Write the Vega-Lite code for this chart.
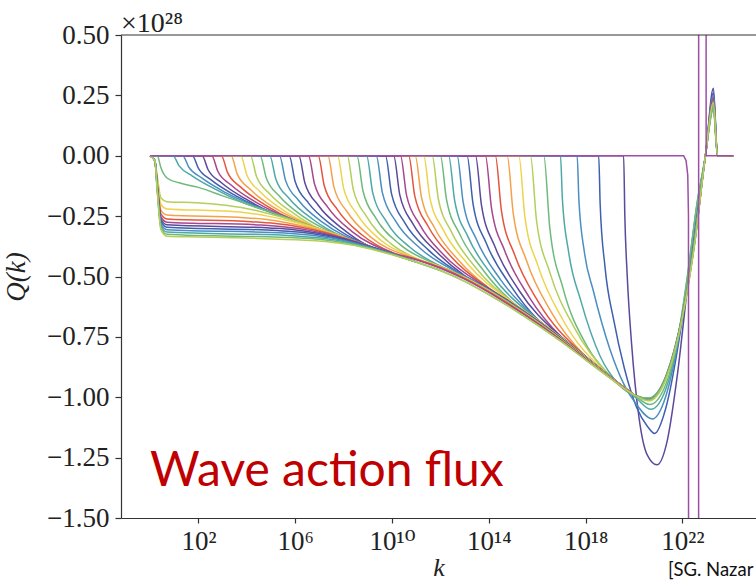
{
"$schema":"https://vega.github.io/schema/vega-lite/v6.json",
"width":635,"height":483,
"autosize":{"type":"none"},
"padding":{"left":121,"top":35,"right":0,"bottom":64},
"background":"white",
"config":{"view":{"stroke":null}},
"datasets":{
"curves":[
{"c":1,"x":0,"q":0},{"c":1,"x":19.57,"q":0},{"c":1,"x":19.62,"q":-0.25},{"c":1,"x":19.72,"q":-0.5},{"c":1,"x":19.9,"q":-0.78},{"c":1,"x":20.2,"q":-1.08},{"c":1,"x":20.55,"q":-1.24},{"c":1,"x":20.95,"q":-1.28},{"c":1,"x":21.35,"q":-1.19},{"c":1,"x":21.8,"q":-0.9},{"c":1,"x":22.2,"q":-0.55},{"c":1,"x":22.6,"q":-0.22},{"c":1,"x":22.95,"q":0},{"c":1,"x":23.28,"q":0.28},{"c":1,"x":23.45,"q":0},{"c":1,"x":24.1,"q":0},
{"c":2,"x":0,"q":0},{"c":2,"x":18.54,"q":0},{"c":2,"x":18.6,"q":-0.2},{"c":2,"x":18.8,"q":-0.46},{"c":2,"x":19.16,"q":-0.68},{"c":2,"x":19.6,"q":-0.88},{"c":2,"x":20.1,"q":-1.04},{"c":2,"x":20.55,"q":-1.12},{"c":2,"x":20.85,"q":-1.15},{"c":2,"x":21.3,"q":-1.05},{"c":2,"x":21.8,"q":-0.8},{"c":2,"x":22.2,"q":-0.53},{"c":2,"x":22.6,"q":-0.22},{"c":2,"x":22.95,"q":0},{"c":2,"x":23.28,"q":0.26},{"c":2,"x":23.45,"q":0},{"c":2,"x":24.1,"q":0},
{"c":3,"x":0,"q":0},{"c":3,"x":17.65,"q":0},{"c":3,"x":17.72,"q":-0.18},{"c":3,"x":17.95,"q":-0.4},{"c":3,"x":18.32,"q":-0.56},{"c":3,"x":19,"q":-0.8},{"c":3,"x":19.6,"q":-0.95},{"c":3,"x":20.1,"q":-1.03},{"c":3,"x":20.75,"q":-1.09},{"c":3,"x":21.3,"q":-1.0},{"c":3,"x":21.8,"q":-0.78},{"c":3,"x":22.2,"q":-0.52},{"c":3,"x":22.6,"q":-0.21},{"c":3,"x":22.95,"q":0},{"c":3,"x":23.28,"q":0.25},{"c":3,"x":23.45,"q":0},{"c":3,"x":24.1,"q":0},
{"c":4,"x":0,"q":0},{"c":4,"x":16.96,"q":0},{"c":4,"x":17.04,"q":-0.18},{"c":4,"x":17.3,"q":-0.4},{"c":4,"x":17.8,"q":-0.6},{"c":4,"x":18.6,"q":-0.83},{"c":4,"x":19.4,"q":-0.95},{"c":4,"x":20.05,"q":-1.0},{"c":4,"x":20.7,"q":-1.05},{"c":4,"x":21.3,"q":-0.97},{"c":4,"x":21.8,"q":-0.77},{"c":4,"x":22.2,"q":-0.51},{"c":4,"x":22.6,"q":-0.2},{"c":4,"x":22.95,"q":0},{"c":4,"x":23.28,"q":0.24},{"c":4,"x":23.45,"q":0},{"c":4,"x":24.1,"q":0},
{"c":5,"x":0,"q":0},{"c":5,"x":16.27,"q":0},{"c":5,"x":16.52,"q":-0.3},{"c":5,"x":17.07,"q":-0.55},{"c":5,"x":18.07,"q":-0.79},{"c":5,"x":19,"q":-0.91},{"c":5,"x":20,"q":-0.99},{"c":5,"x":20.65,"q":-1.03},{"c":5,"x":21.3,"q":-0.95},{"c":5,"x":21.8,"q":-0.76},{"c":5,"x":22.2,"q":-0.5},{"c":5,"x":22.6,"q":-0.2},{"c":5,"x":22.95,"q":0},{"c":5,"x":23.28,"q":0.23},{"c":5,"x":23.45,"q":0},{"c":5,"x":24.1,"q":0},
{"c":6,"x":0,"q":0},{"c":6,"x":15.72,"q":0},{"c":6,"x":15.97,"q":-0.267},{"c":6,"x":16.52,"q":-0.483},{"c":6,"x":17.52,"q":-0.71},{"c":6,"x":19,"q":-0.912},{"c":6,"x":20,"q":-0.99},
{"c":7,"x":0,"q":0},{"c":7,"x":15.24,"q":0},{"c":7,"x":15.49,"q":-0.253},{"c":7,"x":16.04,"q":-0.458},{"c":7,"x":17.04,"q":-0.676},{"c":7,"x":19,"q":-0.912},{"c":7,"x":20,"q":-0.99},
{"c":8,"x":0,"q":0},{"c":8,"x":14.76,"q":0},{"c":8,"x":15.01,"q":-0.24},{"c":8,"x":15.56,"q":-0.435},{"c":8,"x":16.56,"q":-0.644},{"c":8,"x":18,"q":-0.831},{"c":8,"x":19,"q":-0.913},{"c":8,"x":20,"q":-0.99},
{"c":9,"x":0,"q":0},{"c":9,"x":14.27,"q":0},{"c":9,"x":14.52,"q":-0.227},{"c":9,"x":15.07,"q":-0.411},{"c":9,"x":16.07,"q":-0.609},{"c":9,"x":18,"q":-0.831},{"c":9,"x":19,"q":-0.913},{"c":9,"x":20,"q":-0.99},
{"c":10,"x":0,"q":0},{"c":10,"x":13.86,"q":0},{"c":10,"x":14.11,"q":-0.217},{"c":10,"x":14.66,"q":-0.394},{"c":10,"x":15.66,"q":-0.584},{"c":10,"x":17,"q":-0.751},{"c":10,"x":18,"q":-0.832},{"c":10,"x":19,"q":-0.913},{"c":10,"x":20,"q":-0.99},{"c":10,"x":20.6,"q":-1.012},{"c":10,"x":21.3,"q":-0.925},{"c":10,"x":22,"q":-0.665},{"c":10,"x":22.5,"q":-0.365},{"c":10,"x":22.95,"q":0},{"c":10,"x":23.28,"q":0.22},{"c":10,"x":23.45,"q":0},{"c":10,"x":24.1,"q":0},
{"c":11,"x":0,"q":0},{"c":11,"x":13.45,"q":0},{"c":11,"x":13.7,"q":-0.208},{"c":11,"x":14.25,"q":-0.376},{"c":11,"x":15.25,"q":-0.558},{"c":11,"x":17,"q":-0.751},{"c":11,"x":18,"q":-0.832},{"c":11,"x":19,"q":-0.913},{"c":11,"x":20,"q":-0.99},
{"c":12,"x":0,"q":0},{"c":12,"x":13.1,"q":0},{"c":12,"x":13.35,"q":-0.201},{"c":12,"x":13.9,"q":-0.363},{"c":12,"x":14.9,"q":-0.538},{"c":12,"x":16,"q":-0.676},{"c":12,"x":17,"q":-0.752},{"c":12,"x":18,"q":-0.833},{"c":12,"x":19,"q":-0.914},{"c":12,"x":20,"q":-0.99},
{"c":13,"x":0,"q":0},{"c":13,"x":12.69,"q":0},{"c":13,"x":12.94,"q":-0.193},{"c":13,"x":13.49,"q":-0.347},{"c":13,"x":14.49,"q":-0.514},{"c":13,"x":16,"q":-0.676},{"c":13,"x":17,"q":-0.752},{"c":13,"x":18,"q":-0.833},{"c":13,"x":19,"q":-0.914},{"c":13,"x":20,"q":-0.99},
{"c":14,"x":0,"q":0},{"c":14,"x":12.34,"q":0},{"c":14,"x":12.59,"q":-0.187},{"c":14,"x":13.14,"q":-0.336},{"c":14,"x":14.14,"q":-0.496},{"c":14,"x":16,"q":-0.678},{"c":14,"x":17,"q":-0.754},{"c":14,"x":18,"q":-0.834},{"c":14,"x":19,"q":-0.914},{"c":14,"x":20,"q":-0.99},
{"c":15,"x":0,"q":0},{"c":15,"x":12,"q":0},{"c":15,"x":12.25,"q":-0.181},{"c":15,"x":12.8,"q":-0.325},{"c":15,"x":13.8,"q":-0.478},{"c":15,"x":15,"q":-0.608},{"c":15,"x":16,"q":-0.678},{"c":15,"x":17,"q":-0.754},{"c":15,"x":18,"q":-0.834},{"c":15,"x":19,"q":-0.914},{"c":15,"x":20,"q":-0.99},{"c":15,"x":20.6,"q":-1.008},{"c":15,"x":21.3,"q":-0.92},{"c":15,"x":22,"q":-0.66},{"c":15,"x":22.5,"q":-0.36},{"c":15,"x":22.95,"q":0},{"c":15,"x":23.28,"q":0.21},{"c":15,"x":23.45,"q":0},{"c":15,"x":24.1,"q":0},
{"c":16,"x":0,"q":0},{"c":16,"x":11.66,"q":0},{"c":16,"x":11.91,"q":-0.177},{"c":16,"x":12.46,"q":-0.316},{"c":16,"x":13.46,"q":-0.464},{"c":16,"x":15,"q":-0.61},{"c":16,"x":16,"q":-0.68},{"c":16,"x":17,"q":-0.755},{"c":16,"x":18,"q":-0.835},{"c":16,"x":19,"q":-0.915},{"c":16,"x":20,"q":-0.99},
{"c":17,"x":0,"q":0},{"c":17,"x":11.31,"q":0},{"c":17,"x":11.56,"q":-0.172},{"c":17,"x":12.11,"q":-0.306},{"c":17,"x":13.11,"q":-0.446},{"c":17,"x":15,"q":-0.61},{"c":17,"x":16,"q":-0.68},{"c":17,"x":17,"q":-0.755},{"c":17,"x":18,"q":-0.835},{"c":17,"x":19,"q":-0.915},{"c":17,"x":20,"q":-0.99},
{"c":18,"x":0,"q":0},{"c":18,"x":10.96,"q":0},{"c":18,"x":11.21,"q":-0.168},{"c":18,"x":11.76,"q":-0.299},{"c":18,"x":12.76,"q":-0.434},{"c":18,"x":14,"q":-0.548},{"c":18,"x":15,"q":-0.613},{"c":18,"x":16,"q":-0.682},{"c":18,"x":17,"q":-0.757},{"c":18,"x":18,"q":-0.836},{"c":18,"x":19,"q":-0.915},{"c":18,"x":20,"q":-0.99},
{"c":19,"x":0,"q":0},{"c":19,"x":10.69,"q":0},{"c":19,"x":10.94,"q":-0.167},{"c":19,"x":11.49,"q":-0.292},{"c":19,"x":12.49,"q":-0.423},{"c":19,"x":14,"q":-0.548},{"c":19,"x":15,"q":-0.613},{"c":19,"x":16,"q":-0.682},{"c":19,"x":17,"q":-0.757},{"c":19,"x":18,"q":-0.836},{"c":19,"x":19,"q":-0.915},{"c":19,"x":20,"q":-0.99},
{"c":20,"x":0,"q":0},{"c":20,"x":10.35,"q":0},{"c":20,"x":10.6,"q":-0.164},{"c":20,"x":11.15,"q":-0.286},{"c":20,"x":12.15,"q":-0.412},{"c":20,"x":14,"q":-0.551},{"c":20,"x":15,"q":-0.615},{"c":20,"x":16,"q":-0.684},{"c":20,"x":17,"q":-0.758},{"c":20,"x":18,"q":-0.837},{"c":20,"x":19,"q":-0.916},{"c":20,"x":20,"q":-0.99},{"c":20,"x":20.6,"q":-1.005},{"c":20,"x":21.3,"q":-0.918},{"c":20,"x":22,"q":-0.658},{"c":20,"x":22.5,"q":-0.358},{"c":20,"x":22.95,"q":0},{"c":20,"x":23.28,"q":0.2},{"c":20,"x":23.45,"q":0},{"c":20,"x":24.1,"q":0},
{"c":21,"x":0,"q":0},{"c":21,"x":10.07,"q":0},{"c":21,"x":10.32,"q":-0.162},{"c":21,"x":10.87,"q":-0.283},{"c":21,"x":11.87,"q":-0.401},{"c":21,"x":13,"q":-0.496},{"c":21,"x":14,"q":-0.551},{"c":21,"x":15,"q":-0.615},{"c":21,"x":16,"q":-0.684},{"c":21,"x":17,"q":-0.758},{"c":21,"x":18,"q":-0.837},{"c":21,"x":19,"q":-0.916},{"c":21,"x":20,"q":-0.99},
{"c":22,"x":0,"q":0},{"c":22,"x":9.73,"q":0},{"c":22,"x":9.98,"q":-0.158},{"c":22,"x":10.53,"q":-0.278},{"c":22,"x":11.53,"q":-0.393},{"c":22,"x":13,"q":-0.499},{"c":22,"x":14,"q":-0.554},{"c":22,"x":15,"q":-0.618},{"c":22,"x":16,"q":-0.686},{"c":22,"x":17,"q":-0.76},{"c":22,"x":18,"q":-0.838},{"c":22,"x":19,"q":-0.916},{"c":22,"x":20,"q":-0.99},
{"c":23,"x":0,"q":0},{"c":23,"x":9.35,"q":0},{"c":23,"x":9.6,"q":-0.153},{"c":23,"x":10.15,"q":-0.271},{"c":23,"x":11.15,"q":-0.382},{"c":23,"x":13,"q":-0.499},{"c":23,"x":14,"q":-0.554},{"c":23,"x":15,"q":-0.618},{"c":23,"x":16,"q":-0.686},{"c":23,"x":17,"q":-0.76},{"c":23,"x":18,"q":-0.838},{"c":23,"x":19,"q":-0.916},{"c":23,"x":20,"q":-0.99},
{"c":24,"x":0,"q":0},{"c":24,"x":8.95,"q":0},{"c":24,"x":9.2,"q":-0.152},{"c":24,"x":9.75,"q":-0.27},{"c":24,"x":10.75,"q":-0.38},{"c":24,"x":12,"q":-0.457},{"c":24,"x":13,"q":-0.502},{"c":24,"x":14,"q":-0.557},{"c":24,"x":15,"q":-0.62},{"c":24,"x":16,"q":-0.688},{"c":24,"x":17,"q":-0.761},{"c":24,"x":18,"q":-0.839},{"c":24,"x":19,"q":-0.917},{"c":24,"x":20,"q":-0.99},
{"c":25,"x":0,"q":0},{"c":25,"x":8.55,"q":0},{"c":25,"x":8.8,"q":-0.146},{"c":25,"x":9.35,"q":-0.261},{"c":25,"x":10.35,"q":-0.369},{"c":25,"x":12,"q":-0.457},{"c":25,"x":13,"q":-0.502},{"c":25,"x":14,"q":-0.557},{"c":25,"x":15,"q":-0.62},{"c":25,"x":16,"q":-0.688},{"c":25,"x":17,"q":-0.761},{"c":25,"x":18,"q":-0.839},{"c":25,"x":19,"q":-0.917},{"c":25,"x":20,"q":-0.99},{"c":25,"x":20.6,"q":-1.003},{"c":25,"x":21.3,"q":-0.915},{"c":25,"x":22,"q":-0.655},{"c":25,"x":22.5,"q":-0.355},{"c":25,"x":22.95,"q":0},{"c":25,"x":23.28,"q":0.19},{"c":25,"x":23.45,"q":0},{"c":25,"x":24.1,"q":0},
{"c":26,"x":0,"q":0},{"c":26,"x":8.15,"q":0},{"c":26,"x":8.4,"q":-0.14},{"c":26,"x":8.95,"q":-0.252},{"c":26,"x":9.95,"q":-0.364},{"c":26,"x":11,"q":-0.425},{"c":26,"x":12,"q":-0.46},{"c":26,"x":13,"q":-0.505},{"c":26,"x":14,"q":-0.56},{"c":26,"x":15,"q":-0.623},{"c":26,"x":16,"q":-0.69},{"c":26,"x":17,"q":-0.763},{"c":26,"x":18,"q":-0.84},{"c":26,"x":19,"q":-0.917},{"c":26,"x":20,"q":-0.99},
{"c":27,"x":0,"q":0},{"c":27,"x":7.75,"q":0},{"c":27,"x":8,"q":-0.135},{"c":27,"x":8.55,"q":-0.242},{"c":27,"x":9.55,"q":-0.351},{"c":27,"x":11,"q":-0.425},{"c":27,"x":12,"q":-0.46},{"c":27,"x":13,"q":-0.505},{"c":27,"x":14,"q":-0.56},{"c":27,"x":15,"q":-0.623},{"c":27,"x":16,"q":-0.69},{"c":27,"x":17,"q":-0.763},{"c":27,"x":18,"q":-0.84},{"c":27,"x":19,"q":-0.917},{"c":27,"x":20,"q":-0.99},
{"c":28,"x":0,"q":0},{"c":28,"x":7.35,"q":0},{"c":28,"x":7.6,"q":-0.13},{"c":28,"x":8.15,"q":-0.233},{"c":28,"x":9.15,"q":-0.339},{"c":28,"x":11,"q":-0.428},{"c":28,"x":12,"q":-0.463},{"c":28,"x":13,"q":-0.508},{"c":28,"x":14,"q":-0.563},{"c":28,"x":15,"q":-0.625},{"c":28,"x":16,"q":-0.692},{"c":28,"x":17,"q":-0.764},{"c":28,"x":18,"q":-0.841},{"c":28,"x":19,"q":-0.918},{"c":28,"x":20,"q":-0.99},
{"c":29,"x":0,"q":0},{"c":29,"x":6.95,"q":0},{"c":29,"x":7.2,"q":-0.124},{"c":29,"x":7.75,"q":-0.224},{"c":29,"x":8.75,"q":-0.327},{"c":29,"x":10,"q":-0.4},{"c":29,"x":11,"q":-0.428},{"c":29,"x":12,"q":-0.463},{"c":29,"x":13,"q":-0.508},{"c":29,"x":14,"q":-0.563},{"c":29,"x":15,"q":-0.625},{"c":29,"x":16,"q":-0.692},{"c":29,"x":17,"q":-0.764},{"c":29,"x":18,"q":-0.841},{"c":29,"x":19,"q":-0.918},{"c":29,"x":20,"q":-0.99},
{"c":30,"x":0,"q":0},{"c":30,"x":6.55,"q":0},{"c":30,"x":6.8,"q":-0.118},{"c":30,"x":7.35,"q":-0.214},{"c":30,"x":8.35,"q":-0.314},{"c":30,"x":10,"q":-0.401},{"c":30,"x":11,"q":-0.431},{"c":30,"x":12,"q":-0.466},{"c":30,"x":13,"q":-0.511},{"c":30,"x":14,"q":-0.566},{"c":30,"x":15,"q":-0.628},{"c":30,"x":16,"q":-0.694},{"c":30,"x":17,"q":-0.766},{"c":30,"x":18,"q":-0.842},{"c":30,"x":19,"q":-0.918},{"c":30,"x":20,"q":-0.99},{"c":30,"x":20.6,"q":-1.01},{"c":30,"x":21.3,"q":-0.92},{"c":30,"x":22,"q":-0.66},{"c":30,"x":22.5,"q":-0.36},{"c":30,"x":22.95,"q":0},{"c":30,"x":23.28,"q":0.24},{"c":30,"x":23.45,"q":0},{"c":30,"x":24.1,"q":0},
{"c":31,"x":0,"q":0},{"c":31,"x":6.15,"q":0},{"c":31,"x":6.4,"q":-0.113},{"c":31,"x":6.95,"q":-0.205},{"c":31,"x":7.95,"q":-0.302},{"c":31,"x":9,"q":-0.372},{"c":31,"x":10,"q":-0.406},
{"c":32,"x":0,"q":0},{"c":32,"x":5.75,"q":0},{"c":32,"x":6,"q":-0.108},{"c":32,"x":6.55,"q":-0.196},{"c":32,"x":7.55,"q":-0.29},{"c":32,"x":9,"q":-0.372},{"c":32,"x":10,"q":-0.406},
{"c":33,"x":0,"q":0},{"c":33,"x":5.35,"q":0},{"c":33,"x":5.6,"q":-0.102},{"c":33,"x":6.15,"q":-0.186},{"c":33,"x":7.15,"q":-0.277},{"c":33,"x":9,"q":-0.372},{"c":33,"x":10,"q":-0.406},
{"c":34,"x":0,"q":0},{"c":34,"x":4.95,"q":0},{"c":34,"x":5.2,"q":-0.097},{"c":34,"x":5.75,"q":-0.177},{"c":34,"x":6.75,"q":-0.265},{"c":34,"x":8,"q":-0.337},{"c":34,"x":9,"q":-0.372},
{"c":35,"x":0,"q":0},{"c":35,"x":4.55,"q":0},{"c":35,"x":4.8,"q":-0.091},{"c":35,"x":5.35,"q":-0.168},{"c":35,"x":6.35,"q":-0.253},{"c":35,"x":8,"q":-0.337},{"c":35,"x":9,"q":-0.372},
{"c":36,"x":0,"q":0},{"c":36,"x":4.15,"q":0},{"c":36,"x":4.4,"q":-0.086},{"c":36,"x":4.95,"q":-0.158},{"c":36,"x":5.95,"q":-0.24},{"c":36,"x":7,"q":-0.303},{"c":36,"x":8,"q":-0.337},
{"c":37,"x":0,"q":0},{"c":37,"x":3.75,"q":0},{"c":37,"x":4,"q":-0.08},{"c":37,"x":4.55,"q":-0.149},{"c":37,"x":5.55,"q":-0.228},{"c":37,"x":7,"q":-0.303},{"c":37,"x":8,"q":-0.337},
{"c":38,"x":0,"q":0},{"c":38,"x":3.35,"q":0},{"c":38,"x":3.6,"q":-0.075},{"c":38,"x":4.15,"q":-0.14},{"c":38,"x":5.15,"q":-0.216},{"c":38,"x":7,"q":-0.303},{"c":38,"x":8,"q":-0.337},
{"c":39,"x":0,"q":0},{"c":39,"x":2.95,"q":0},{"c":39,"x":3.2,"q":-0.069},{"c":39,"x":3.75,"q":-0.13},{"c":39,"x":4.75,"q":-0.203},{"c":39,"x":6,"q":-0.269},{"c":39,"x":7,"q":-0.303},
{"c":40,"x":0,"q":0},{"c":40,"x":2.55,"q":0},{"c":40,"x":2.8,"q":-0.064},{"c":40,"x":3.35,"q":-0.121},{"c":40,"x":4.35,"q":-0.191},{"c":40,"x":6,"q":-0.269},{"c":40,"x":7,"q":-0.303},
{"c":41,"x":0,"q":0},{"c":41,"x":2.15,"q":0},{"c":41,"x":2.4,"q":-0.058},{"c":41,"x":2.95,"q":-0.112},{"c":41,"x":3.95,"q":-0.179},{"c":41,"x":5,"q":-0.234},{"c":41,"x":6,"q":-0.269},
{"c":42,"x":0,"q":0},{"c":42,"x":1.75,"q":0},{"c":42,"x":2,"q":-0.052},{"c":42,"x":2.55,"q":-0.102},{"c":42,"x":3.55,"q":-0.166},{"c":42,"x":5,"q":-0.234},{"c":42,"x":6,"q":-0.269},
{"c":43,"x":0,"q":0},{"c":43,"x":1.35,"q":0},{"c":43,"x":1.6,"q":-0.047},{"c":43,"x":2.15,"q":-0.093},{"c":43,"x":3.15,"q":-0.154},{"c":43,"x":5,"q":-0.234},{"c":43,"x":6,"q":-0.269},
{"c":44,"x":0,"q":0},{"c":44,"x":0.95,"q":0},{"c":44,"x":1.2,"q":-0.042},{"c":44,"x":1.75,"q":-0.084},{"c":44,"x":2.75,"q":-0.141},{"c":44,"x":4,"q":-0.2},{"c":44,"x":5,"q":-0.234},
{"c":45,"x":0,"q":0},{"c":45,"x":0.3,"q":0},{"c":45,"x":0.45,"q":-0.05},{"c":45,"x":0.7,"q":-0.092},{"c":45,"x":1.2,"q":-0.112},{"c":45,"x":2,"q":-0.131},{"c":45,"x":3,"q":-0.166},{"c":45,"x":4,"q":-0.2},{"c":45,"x":5,"q":-0.234},{"c":45,"x":6,"q":-0.269},{"c":45,"x":7,"q":-0.303},{"c":45,"x":8,"q":-0.337},{"c":45,"x":9,"q":-0.372},{"c":45,"x":10,"q":-0.406},{"c":45,"x":11,"q":-0.44},{"c":45,"x":12,"q":-0.475},{"c":45,"x":13,"q":-0.52},{"c":45,"x":14,"q":-0.575},{"c":45,"x":15,"q":-0.635},{"c":45,"x":16,"q":-0.7},{"c":45,"x":17,"q":-0.77},{"c":45,"x":18,"q":-0.845},{"c":45,"x":19,"q":-0.92},{"c":45,"x":20,"q":-0.99},{"c":45,"x":20.6,"q":-1.01},{"c":45,"x":21.3,"q":-0.92},{"c":45,"x":22,"q":-0.66},{"c":45,"x":22.5,"q":-0.36},{"c":45,"x":22.95,"q":0},{"c":45,"x":23.28,"q":0.2},{"c":45,"x":23.45,"q":0},{"c":45,"x":24.1,"q":0},
{"c":46,"x":0,"q":0},{"c":46,"x":0.2,"q":-0.02},{"c":46,"x":0.3,"q":-0.086},{"c":46,"x":0.45,"q":-0.175},{"c":46,"x":0.7,"q":-0.19},{"c":46,"x":1.92,"q":-0.195},{"c":46,"x":2.92,"q":-0.203},{"c":46,"x":3.92,"q":-0.217},{"c":46,"x":4.92,"q":-0.24},{"c":46,"x":5.92,"q":-0.268},{"c":46,"x":7,"q":-0.303},
{"c":47,"x":0,"q":0},{"c":47,"x":0.2,"q":-0.02},{"c":47,"x":0.3,"q":-0.099},{"c":47,"x":0.45,"q":-0.202},{"c":47,"x":0.7,"q":-0.22},{"c":47,"x":2.86,"q":-0.228},{"c":47,"x":3.86,"q":-0.235},{"c":47,"x":4.86,"q":-0.25},{"c":47,"x":5.86,"q":-0.272},{"c":47,"x":6.86,"q":-0.3},{"c":47,"x":8,"q":-0.337},
{"c":48,"x":0,"q":0},{"c":48,"x":0.2,"q":-0.02},{"c":48,"x":0.3,"q":-0.11},{"c":48,"x":0.45,"q":-0.225},{"c":48,"x":0.7,"q":-0.245},{"c":48,"x":3.65,"q":-0.255},{"c":48,"x":4.65,"q":-0.262},{"c":48,"x":5.65,"q":-0.277},{"c":48,"x":6.65,"q":-0.299},{"c":48,"x":7.65,"q":-0.327},{"c":48,"x":9,"q":-0.372},
{"c":49,"x":0,"q":0},{"c":49,"x":0.2,"q":-0.02},{"c":49,"x":0.3,"q":-0.118},{"c":49,"x":0.45,"q":-0.241},{"c":49,"x":0.7,"q":-0.262},{"c":49,"x":4.18,"q":-0.273},{"c":49,"x":5.18,"q":-0.281},{"c":49,"x":6.18,"q":-0.295},{"c":49,"x":7.18,"q":-0.317},{"c":49,"x":8.18,"q":-0.346},{"c":49,"x":10,"q":-0.406},
{"c":50,"x":0,"q":0},{"c":50,"x":0.2,"q":-0.02},{"c":50,"x":0.3,"q":-0.124},{"c":50,"x":0.45,"q":-0.253},{"c":50,"x":0.7,"q":-0.275},{"c":50,"x":4.59,"q":-0.287},{"c":50,"x":5.59,"q":-0.295},{"c":50,"x":6.59,"q":-0.309},{"c":50,"x":7.59,"q":-0.331},{"c":50,"x":8.59,"q":-0.36},{"c":50,"x":10,"q":-0.406},
{"c":51,"x":0,"q":0},{"c":51,"x":0.2,"q":-0.02},{"c":51,"x":0.3,"q":-0.129},{"c":51,"x":0.45,"q":-0.263},{"c":51,"x":0.7,"q":-0.286},{"c":51,"x":4.94,"q":-0.299},{"c":51,"x":5.94,"q":-0.306},{"c":51,"x":6.94,"q":-0.321},{"c":51,"x":7.94,"q":-0.343},{"c":51,"x":8.94,"q":-0.372},{"c":51,"x":10,"q":-0.406},
{"c":52,"x":0,"q":0},{"c":52,"x":0.2,"q":-0.02},{"c":52,"x":0.3,"q":-0.133},{"c":52,"x":0.45,"q":-0.272},{"c":52,"x":0.7,"q":-0.296},{"c":52,"x":5.25,"q":-0.31},{"c":52,"x":6.25,"q":-0.317},{"c":52,"x":7.25,"q":-0.332},{"c":52,"x":8.25,"q":-0.354},{"c":52,"x":9.25,"q":-0.382},{"c":52,"x":11,"q":-0.44},
{"c":53,"x":0,"q":0},{"c":53,"x":0.2,"q":-0.02},{"c":53,"x":0.3,"q":-0.138},{"c":53,"x":0.45,"q":-0.282},{"c":53,"x":0.7,"q":-0.306},{"c":53,"x":5.57,"q":-0.32},{"c":53,"x":6.57,"q":-0.328},{"c":53,"x":7.57,"q":-0.342},{"c":53,"x":8.57,"q":-0.365},{"c":53,"x":9.57,"q":-0.393},{"c":53,"x":11,"q":-0.44},
{"c":54,"x":0,"q":0},{"c":54,"x":0.2,"q":-0.02},{"c":54,"x":0.3,"q":-0.142},{"c":54,"x":0.45,"q":-0.291},{"c":54,"x":0.7,"q":-0.316},{"c":54,"x":5.88,"q":-0.331},{"c":54,"x":6.88,"q":-0.339},{"c":54,"x":7.88,"q":-0.353},{"c":54,"x":8.88,"q":-0.376},{"c":54,"x":9.88,"q":-0.404},{"c":54,"x":11,"q":-0.44},
{"c":55,"x":0,"q":0},{"c":55,"x":0.2,"q":-0.02},{"c":55,"x":0.3,"q":-0.146},{"c":55,"x":0.45,"q":-0.299},{"c":55,"x":0.7,"q":-0.325},{"c":55,"x":6.16,"q":-0.341},{"c":55,"x":7.16,"q":-0.348},{"c":55,"x":8.16,"q":-0.363},{"c":55,"x":9.16,"q":-0.385},{"c":55,"x":10.16,"q":-0.413},{"c":55,"x":12,"q":-0.475},
{"c":56,"x":0,"q":0},{"c":56,"x":0.2,"q":-0.02},{"c":56,"x":0.3,"q":-0.15},{"c":56,"x":0.45,"q":-0.306},{"c":56,"x":0.7,"q":-0.333},{"c":56,"x":2,"q":-0.336},{"c":56,"x":4,"q":-0.341},{"c":56,"x":6.41,"q":-0.35},{"c":56,"x":7.41,"q":-0.357},{"c":56,"x":8.41,"q":-0.371},{"c":56,"x":9.41,"q":-0.394},{"c":56,"x":10.41,"q":-0.422},{"c":56,"x":12,"q":-0.475},{"c":56,"x":13,"q":-0.52},{"c":56,"x":14,"q":-0.575},{"c":56,"x":15,"q":-0.635},{"c":56,"x":16,"q":-0.7},{"c":56,"x":17,"q":-0.77},{"c":56,"x":18,"q":-0.845},{"c":56,"x":19,"q":-0.92},{"c":56,"x":20,"q":-0.99},{"c":56,"x":20.6,"q":-1.015},{"c":56,"x":21.3,"q":-0.93},{"c":56,"x":22,"q":-0.67},{"c":56,"x":22.5,"q":-0.37},{"c":56,"x":22.95,"q":0},{"c":56,"x":23.28,"q":0.22},{"c":56,"x":23.45,"q":0},{"c":56,"x":24.1,"q":0}
],
"spike":[
{"x":0,"q":0},{"x":22.05,"q":0},{"x":22.15,"q":-0.02},{"x":22.22,"q":-0.08},{"x":22.25,"q":-0.25},{"x":22.27,"q":-10},{"x":22.66,"q":-10},{"x":22.68,"q":10},{"x":22.96,"q":10},{"x":22.98,"q":0},{"x":24.1,"q":0}
]
},
"layer":[
{
"data":{"name":"curves"},
"mark":{"type":"line","interpolate":"monotone","strokeWidth":1.5,"clip":true},
"encoding":{
"x":{"field":"x","type":"quantitative","scale":{"domain":[-1.2,25.04],"nice":false,"zero":false},
"axis":{"values":[2,6,10,14,18,22],"labelExpr":"datum.value == 2 ? '10²' : datum.value == 6 ? '10⁶' : datum.value == 10 ? '10¹⁰' : datum.value == 14 ? '10¹⁴' : datum.value == 18 ? '10¹⁸' : '10²²'",
"grid":false,"labelFont":"Liberation Serif, DejaVu Serif","labelFontSize":27,"labelColor":"#222","tickSize":5,"tickColor":"#333","domainColor":"#333","domainWidth":1.2,"tickWidth":1.2,"labelPadding":5,
"title":"k","titleFont":"Liberation Serif","titleFontStyle":"italic","titleFontWeight":"normal","titleFontSize":26,"titleColor":"#222","titlePadding":0}},
"y":{"field":"q","type":"quantitative","scale":{"domain":[-1.5,0.5],"nice":false,"zero":false},
"axis":{"values":[-1.5,-1.25,-1,-0.75,-0.5,-0.25,0,0.25,0.5],"format":".2f","grid":false,"labelFont":"Liberation Serif","labelFontSize":27,"labelColor":"#222","tickSize":6,"tickColor":"#333","tickWidth":1.2,"domainColor":"#333","domainWidth":1.2,"labelPadding":6,
"title":"Q(k)","titleFont":"Liberation Serif","titleFontStyle":"italic","titleFontWeight":"normal","titleFontSize":27,"titleColor":"#222","titlePadding":16}},
"color":{"field":"c","type":"nominal","legend":null,
"scale":{"domain":[1,2,3,4,5,6,7,8,9,10,11,12,13,14,15,16,17,18,19,20,21,22,23,24,25,26,27,28,29,30,31,32,33,34,35,36,37,38,39,40,41,42,43,44,45,46,47,48,49,50,51,52,53,54,55,56],
"range":["#5b4a9b","#3f60ae","#4a8fc1","#4fa8a8","#6fba7a","#b4cf5a","#eed34d","#f4a24a","#e3553f","#a6478f"]}}
}
},
{
"data":{"name":"spike"},
"mark":{"type":"line","interpolate":"linear","strokeWidth":1.5,"clip":true,"color":"#9d4fa5"},
"encoding":{"x":{"field":"x","type":"quantitative"},"y":{"field":"q","type":"quantitative","title":"Q(k)"}}
},
{
"data":{"values":[{"q":0.5}]},
"mark":{"type":"rule","color":"#333","strokeWidth":1.2},
"encoding":{"y":{"field":"q","type":"quantitative","title":"Q(k)"}}
},
{
"data":{"values":[{"x":-1.2,"q":0.5,"label":"×10²⁸"}]},
"mark":{"type":"text","align":"left","baseline":"alphabetic","dy":-3,"font":"Liberation Serif, DejaVu Serif","fontSize":28,"color":"#222"},
"encoding":{"x":{"field":"x","type":"quantitative"},"y":{"field":"q","type":"quantitative","title":"Q(k)"},"text":{"field":"label"}}
},
{
"data":{"values":[{"x":0,"q":-1.369,"label":"Wave action flux"}]},
"mark":{"type":"text","align":"left","baseline":"alphabetic","font":"Lato","fontSize":48,"color":"#c00000"},
"encoding":{"x":{"field":"x","type":"quantitative"},"y":{"field":"q","type":"quantitative","title":"Q(k)"},"text":{"field":"label"}}
},
{
"data":{"values":[{"x":21.4,"q":-1.74,"label":"[SG. Nazar"}]},
"mark":{"type":"text","align":"left","baseline":"alphabetic","font":"Lato","fontSize":18.5,"color":"#111"},
"encoding":{"x":{"field":"x","type":"quantitative"},"y":{"field":"q","type":"quantitative","title":"Q(k)"},"text":{"field":"label"}}
}
]
}
